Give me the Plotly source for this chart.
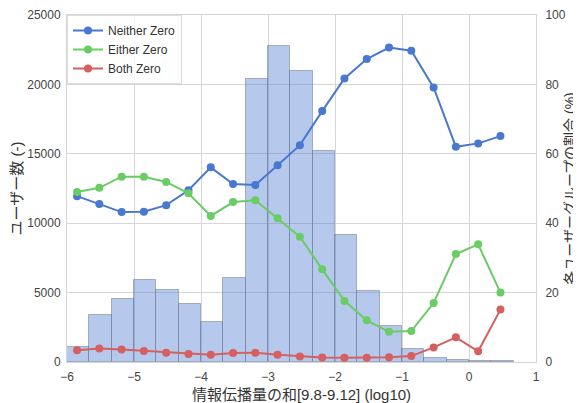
import plotly.graph_objects as go

# Histogram (left axis): bins of width 1/3 starting at -6
hist_left_edges = [-6 + i / 3 for i in range(20)]
hist_counts = [1050, 3370, 4520, 5940, 5190, 4160, 2880, 6060, 20380, 22750,
               21000, 15200, 9160, 5120, 2560, 970, 290, 170, 100, 50]

# Line series (right axis, %)
line_x = [-5.85 + i * 0.3326 for i in range(20)]
neither_zero = [47.8, 45.5, 43.2, 43.3, 45.2, 49.5, 56.1, 51.3, 51.0, 56.7,
                62.5, 72.3, 81.7, 87.3, 90.6, 89.7, 79.1, 62.0, 63.0, 65.1]
either_zero = [49.0, 50.2, 53.4, 53.4, 51.9, 48.6, 42.1, 46.1, 46.6, 41.4,
               36.1, 26.7, 17.6, 12.0, 8.7, 8.9, 17.0, 31.1, 33.9, 20.0]
both_zero = [3.4, 3.9, 3.6, 3.2, 2.7, 2.3, 2.1, 2.6, 2.7, 2.1,
             1.6, 1.3, 1.2, 1.2, 1.4, 1.7, 4.2, 7.1, 3.1, 15.1]

series_names = ["Neither Zero", "Either Zero", "Both Zero"]
series_colors = ["#4878CF", "#6ACC65", "#D65F5F"]

FONT = "Liberation Sans, Arial, Noto Sans CJK JP, sans-serif"
GRID = "#d6d6d6"
TICKC = "#444444"

fig = go.Figure()
bin_w = 1 / 3
fig.add_trace(go.Bar(
    x=[e + bin_w / 2 for e in hist_left_edges], y=hist_counts, width=bin_w,
    marker=dict(color="rgba(72,120,207,0.40)",
                line=dict(color="rgba(110,125,150,0.55)", width=1)),
    showlegend=False, yaxis="y", hoverinfo="skip"))

for name, vals, col in zip(series_names, [neither_zero, either_zero, both_zero], series_colors):
    fig.add_trace(go.Scatter(
        x=line_x, y=vals, name=name, mode="lines+markers", yaxis="y2",
        line=dict(color=col, width=2), marker=dict(color=col, size=8)))

# the page body adds an 8px offset, so the figure is 8px smaller than the window
fig.update_layout(
    width=573, height=395,
    margin=dict(l=59, r=45, t=7, b=41),
    paper_bgcolor="white", plot_bgcolor="white",
    font=dict(family=FONT, size=12, color="#333333"),
    bargap=0,
    xaxis=dict(range=[-6, 1], dtick=1, tick0=-6, showgrid=True, gridcolor=GRID,
               zeroline=False, showline=True, linecolor=GRID, mirror=True,
               ticks="", tickfont=dict(size=12, color=TICKC), automargin=False,
               ticklabelstandoff=4,
               title=dict(text="情報伝播量の和[9.8-9.12] (log10)", standoff=6,
                          font=dict(size=15, family=FONT, color="#333333"))),
    yaxis=dict(range=[0, 25000], dtick=5000, showgrid=True, gridcolor=GRID,
               zeroline=False, showline=True, linecolor=GRID, ticks="",
               tickfont=dict(size=12, color=TICKC), tickformat="d", automargin=False,
               ticklabelstandoff=3,
               title=dict(text="ユーザー数 (-)", standoff=12,
                          font=dict(size=15, family=FONT, color="#333333"))),
    yaxis2=dict(range=[0, 100], dtick=20, overlaying="y", side="right",
                showgrid=False, zeroline=False, showline=True, linecolor=GRID,
                ticks="", tickfont=dict(size=12, color=TICKC), automargin=False,
                ticklabelstandoff=6,
                title=dict(text="各ユーザーグループの割合 (%)", standoff=0,
                           font=dict(size=14, family=FONT, color="#333333"))),
    legend=dict(x=0.0, y=1.0, xanchor="left", yanchor="top",
                bgcolor="rgba(255,255,255,0.8)", bordercolor="#dddddd", borderwidth=1,
                font=dict(size=12, family=FONT), tracegroupgap=0,
                itemwidth=30),
)

fig.write_html("out.html")
